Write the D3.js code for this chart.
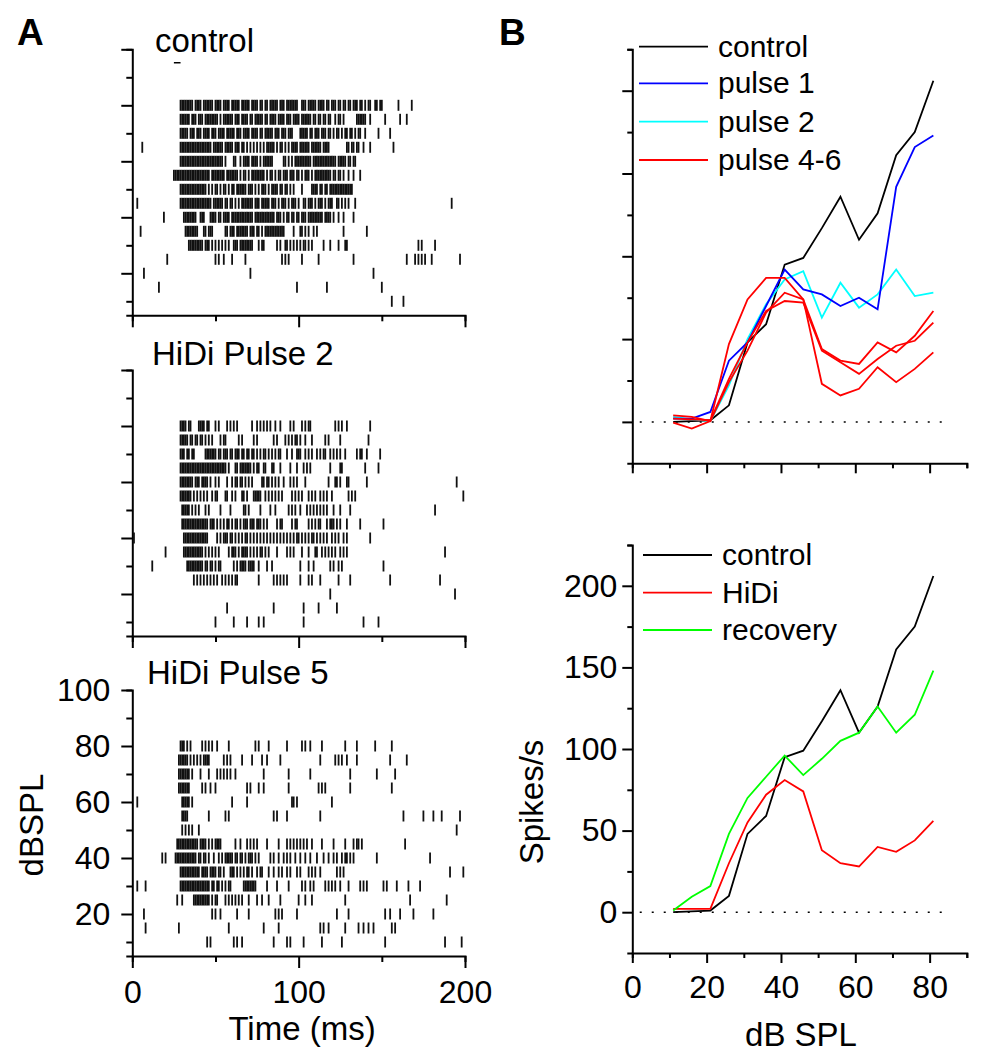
<!DOCTYPE html>
<html>
<head>
<meta charset="utf-8">
<script src="https://d3js.org/d3.v7.min.js"></script>
<style>
  body { margin: 0; background: #fff; }
  text { font-family: Arial, "Liberation Sans", sans-serif; fill: #000; }
</style>
</head>
<body>
<script>
// ---------- data ----------
// raster rows, dB SPL (top row first)
var rowLevels = [80, 75, 70, 65, 60, 55, 50, 45, 40, 35, 30, 25, 20, 15, 10];

// spike times (ms), one string per row
var controlSpikes = [
  "29 30 31 32 33 34 35 36 38 39 40 41 43 44 45 46 47 48 50 51 52 53 55 56 57 58 60 61 62 63 64 66 67 68 69 70 72 73 74 75 77 78 80 81 83 84 85 86 87 89 90 91 93 94 95 96 97 98 99 102 103 104 106 107 108 109 110 112 113 114 115 117 118 120 121 122 124 125 127 128 130 131 133 134 135 137 138 140 142 143 146 147 149 150 160 168",
  "29 30 31 32 33 34 36 37 38 40 41 42 44 45 46 47 48 49 50 51 53 55 56 57 58 59 60 62 63 64 66 67 68 69 71 72 74 75 76 77 78 80 81 83 84 85 86 88 89 90 91 93 94 95 97 98 99 100 102 103 104 105 106 107 109 110 112 113 115 116 118 119 122 124 125 127 135 136 137 138 139 140 143 152 161 165",
  "29 30 31 32 33 35 36 37 39 40 41 43 44 45 46 48 49 50 52 53 54 55 57 58 59 60 61 63 64 65 67 68 69 70 72 73 74 75 77 78 80 81 82 83 84 86 87 88 90 91 92 94 95 96 101 102 103 104 105 107 108 110 111 112 114 115 116 118 119 121 123 124 126 128 129 131 132 134 136 137 140 148 155",
  "6 29 30 31 32 33 34 35 36 37 38 39 40 41 42 43 44 45 46 47 49 50 51 52 53 54 56 57 58 59 60 62 63 64 66 67 69 71 73 75 77 79 81 82 83 84 85 87 89 90 92 94 96 97 98 99 101 102 103 104 105 106 108 109 110 111 112 113 115 116 117 118 129 130 132 133 135 136 139 143 157",
  "29 30 31 32 33 34 35 36 37 38 39 40 41 42 43 44 45 46 47 48 49 50 51 52 53 54 56 61 62 65 67 68 69 70 72 73 74 75 77 79 80 81 82 83 84 91 92 94 96 98 99 100 101 102 103 104 105 106 107 109 110 111 112 113 114 115 116 117 118 119 120 121 122 124 125 126 127 128 130 131 133 134",
  "25 26 27 28 29 30 31 32 33 34 35 36 37 38 39 40 41 42 43 44 45 46 48 49 50 51 52 53 54 55 57 58 59 60 61 62 63 65 67 68 70 72 73 74 75 76 77 78 79 81 83 84 86 88 89 91 92 93 95 96 97 99 100 102 104 105 106 108 110 111 112 113 114 115 116 117 118 119 121 122 124 125 127 130 133 137",
  "29 30 31 32 33 34 35 36 37 38 39 40 41 42 43 44 46 48 50 51 53 55 56 58 60 61 63 64 65 66 67 68 70 71 72 74 76 78 79 80 82 84 85 86 87 89 90 92 93 95 97 102 108 109 110 111 113 114 116 117 119 120 121 122 123 124 125 126 127 128 129 130 131 132",
  "3 29 30 31 32 33 34 35 36 37 38 39 40 41 42 43 44 45 46 47 49 50 51 52 53 54 56 57 59 60 62 64 66 67 68 69 70 71 72 74 75 76 78 79 80 81 82 84 85 86 88 90 91 92 94 96 97 98 100 103 104 106 107 108 110 112 113 114 116 118 119 120 123 124 126 128 130 134 192",
  "19 31 32 33 34 35 36 37 38 41 42 43 47 48 49 50 52 53 55 56 57 58 60 61 62 63 64 65 66 67 68 69 70 71 72 74 75 76 77 78 79 80 81 82 83 84 85 87 88 89 91 93 94 96 97 99 100 102 103 104 106 107 108 109 110 111 112 113 114 116 117 118 119 121 124 127 133",
  "5 32 33 34 35 36 37 38 39 43 44 46 47 48 56 57 59 60 61 63 64 65 66 67 68 69 71 72 73 75 76 78 80 81 82 83 84 85 86 87 88 89 90 91 97 101 102 104 106 109 111 127 141",
  "34 35 36 37 38 39 40 41 42 44 45 46 48 50 52 54 56 58 61 62 63 65 66 67 68 69 70 71 72 76 78 79 87 89 92 93 95 97 99 101 103 104 106 108 115 119 124 128 129 172 174 182",
  "21 50 52 55 60 68 90 92 94 102 112 133 165 170 172 174 176 180 197",
  "7 71 145",
  "16 99 117 150",
  "156 163"
];

var pulse2Spikes = [
  "29 30 31 32 34 35 40 41 42 43 45 46 50 52 57 59 61 63 72 75 77 79 81 83 86 89 95 97 102 104 106 107 122 124 126 129 143",
  "29 30 31 32 33 35 36 38 39 41 42 44 46 48 53 55 56 64 66 73 75 85 87 92 94 96 98 99 101 104 108 116 118 125 142",
  "29 30 31 33 34 36 37 44 45 46 47 48 49 50 52 53 55 56 57 59 60 62 63 64 66 67 69 70 72 73 75 77 79 80 82 84 86 88 89 93 96 99 100 101 104 106 108 111 113 115 116 119 121 123 125 128 135 137 138 141 149",
  "29 30 31 32 33 34 35 36 37 38 39 40 41 42 43 44 45 46 47 48 49 50 51 52 53 54 55 56 58 62 63 65 66 67 68 69 70 71 73 75 76 79 80 84 85 89 95 99 103 105 107 119 125 126 140 148",
  "29 30 31 32 33 34 35 36 38 39 40 42 43 44 45 47 50 52 57 60 62 63 65 66 68 70 72 78 79 81 82 84 86 88 91 95 97 99 104 118 122 123 125 129 130 141 195",
  "29 30 31 32 33 34 35 37 39 41 43 45 48 50 51 56 57 60 62 66 67 69 73 74 75 76 77 80 82 84 86 88 90 96 98 100 102 106 108 110 113 115 117 120 130 132 134 199",
  "30 31 32 33 34 36 38 40 44 46 53 59 67 68 70 77 83 86 94 96 98 101 105 107 109 111 113 115 117 121 125 131 182",
  "30 31 32 33 34 35 36 37 38 39 40 41 42 43 44 45 47 48 49 51 53 55 57 58 60 62 63 65 67 68 69 71 72 73 75 76 77 79 81 87 89 90 96 98 99 106 108 110 112 113 117 119 120 121 123 125 129 137 151",
  "1 31 32 33 34 35 36 37 38 39 40 41 42 43 44 45 51 53 55 56 57 59 60 62 64 66 68 69 71 73 75 77 79 81 83 85 87 89 91 93 95 97 99 100 102 104 106 108 109 111 113 115 117 120 122 124 127 129 143",
  "20 31 32 33 34 35 36 37 38 39 40 41 42 44 46 48 50 52 58 60 61 62 64 66 67 68 69 71 73 75 77 78 80 82 87 93 95 97 102 106 110 111 114 116 118 120 122 125 127 129 188",
  "12 33 34 35 36 37 38 39 40 41 42 44 45 47 48 50 52 53 61 63 65 66 67 68 70 71 72 73 76 81 84 101 106 109 119 121 124 126 151",
  "37 39 41 43 45 47 49 51 54 56 58 60 62 63 76 85 87 89 91 93 101 106 108 113 124 131 155 185",
  "119 194",
  "57 85 103 112 123",
  "50 61 69 76 79 103 139 148"
];

var pulse5Spikes = [
  "29 30 31 33 35 42 44 46 48 51 58 74 76 82 93 102 104 107 114 128 135 146 156",
  "28 29 30 31 32 33 35 37 39 41 43 44 45 46 55 57 59 66 72 78 81 89 113 122 124 126 129 135 155 165",
  "28 29 30 31 32 33 34 36 41 46 51 53 55 57 59 62 79 94 107 131 147 158",
  "28 29 30 31 32 33 34 42 44 47 50 69 71 76 79 94 112 114 116 131 156",
  "3 30 31 32 33 34 36 60 69 96 97 99 120",
  "30 31 32 33 46 56 58 85 87 93 113 163 175 181 186 197",
  "30 32 34 36 40 195",
  "27 28 29 30 31 32 33 34 35 36 37 38 39 41 42 43 44 46 48 50 51 52 53 62 65 69 71 73 75 81 88 93 95 97 99 101 103 105 108 114 121 128 133 135 136 138 164",
  "18 20 26 27 28 29 30 31 32 33 34 35 36 37 38 40 41 43 44 46 49 52 54 56 57 58 59 60 62 63 65 66 68 70 71 72 74 76 83 85 88 91 93 95 98 101 104 107 111 115 118 121 123 126 128 129 131 133 147 179",
  "29 30 31 32 33 34 35 36 37 38 39 40 42 43 44 45 47 48 49 50 52 53 55 59 60 61 63 65 67 69 70 72 75 77 78 82 85 88 90 93 95 99 101 106 108 110 113 123 125 127 191 199",
  "3 8 29 30 31 32 33 34 35 36 37 38 39 40 41 42 43 44 45 46 48 49 51 52 54 56 58 59 67 68 69 70 71 72 73 74 81 87 94 102 104 107 109 116 118 120 122 125 130 137 139 141 151 153 159 166 173",
  "27 30 37 38 39 40 41 42 43 44 45 46 48 50 51 56 58 60 62 64 66 70 75 78 82 89 100 104 108 128 167 189",
  "7 48 50 53 63 70 86 88 90 99 123 130 152 155 161 169 181",
  "8 28 58 79 88 113 115 118 128 136 139 142 145 156 158",
  "45 47 61 63 66 85 93 95 103 114 126 152 188 198"
];

// rate-level functions (spikes/s) at each sound level (dB SPL)
var levels = [11, 16, 21, 26, 31, 36, 41, 46, 51, 56, 61, 66, 71, 76, 81];
var controlRate  = [0, 0.5, 1, 10, 48, 59, 95, 99, 117, 136, 110, 126, 161, 175, 206];
var pulse1Rate   = [2, 2, 6, 37, 48, 70, 92, 80, 77, 70, 75, 68, 142, 166, 173];
var pulse2Rate   = [3, 1.5, 0.5, 22, 50, 71, 86, 91, 63, 84, 69, 77, 92, 76, 78];
var pulse4Rate   = [4, 3, 0.5, 47, 74, 87, 87, 74, 44, 37, 35, 48, 42, 52, 67];
var pulse5Rate   = [-0.5, -4, 0.5, 24, 43, 66, 78, 74, 23, 16, 20, 33, 24, 32, 42];
var pulse6Rate   = [2, 1.5, 1, 26, 48, 67, 73, 72, 43, 36, 29, 38, 46, 49, 60];
var hidiRate     = [2, 2, 2, 30, 55, 72, 81, 74, 38, 30, 28, 40, 37, 44, 56];
var recoveryRate = [1, 9.5, 16, 48, 70, 83, 96, 84, 94, 105, 110, 126, 110, 121, 148];

var rasterTicks = [0, 50, 100, 150, 200];
var dbTicks = [10, 20, 30, 40, 50, 60, 70, 80, 90, 100];
var rateTicks = [0, 25, 50, 75, 100, 125, 150, 175, 200, 225];
var levelTicks = [0, 10, 20, 30, 40, 50, 60, 70, 80, 90];

var legendTop = ["control", "pulse 1", "pulse 2", "pulse 4-6"];
var legendBottom = ["control", "HiDi", "recovery"];

// ---------- svg ----------
var svgWidth = 982;
var svgHeight = 1064;

var svg = d3.select("body")
    .append("svg")
    .attr("width", svgWidth)
    .attr("height", svgHeight);

// panel letters
svg.append("text").attr("x", 17).attr("y", 45)
    .style("font-size", "37px").style("font-weight", "bold").text("A");
svg.append("text").attr("x", 499).attr("y", 45)
    .style("font-size", "37px").style("font-weight", "bold").text("B");

// ---------- rasters ----------
var rasterX = d3.scaleLinear().domain([0, 200]).range([132.3, 465]);

function styleAxis(g) {
    g.selectAll("path, line").attr("stroke", "#000").attr("stroke-width", 2);
    g.selectAll("text").style("font-size", "32px").attr("fill", "#000");
}

function drawRaster(top, spikes, title, titleX, titleY, labels) {
    var y = d3.scaleLinear().domain([5, 100]).range([top + 266, top]);
    var g = svg.append("g");

    // minor + major ticks on the dB axis
    var left = g.append("g").attr("transform", "translate(132.3,0)")
        .call(d3.axisLeft(y).tickValues(dbTicks).tickSizeOuter(0)
            .tickSize(6).tickFormat(""));
    left.selectAll(".tick").filter(d => d % 20 == 0).select("line").attr("x2", -11);
    left.selectAll(".tick").filter(d => d % 20 == 0).select("text")
        .text(d => labels ? d : "").attr("x", -22);
    styleAxis(left);

    var bottom = g.append("g").attr("transform", `translate(0, ${top + 266})`)
        .call(d3.axisBottom(rasterX).tickValues(rasterTicks).tickSizeOuter(0)
            .tickSize(6).tickFormat(""));
    bottom.selectAll(".tick").filter(d => d % 100 == 0).select("line").attr("y2", 12);
    bottom.selectAll(".tick").filter(d => d % 100 == 0).select("text")
        .text(d => labels ? d : "").attr("y", 24);
    styleAxis(bottom);

    // spikes
    spikes.forEach(function(row, i) {
        var times = row.split(" ").map(Number);
        var lvl = rowLevels[i];
        g.selectAll(null).data(times).enter()
            .append("line")
            .attr("x1", d => rasterX(d))
            .attr("x2", d => rasterX(d))
            .attr("y1", y(lvl) - 5.5)
            .attr("y2", y(lvl) + 5.5)
            .attr("stroke", "#111")
            .attr("stroke-width", 1.8);
    });

    g.append("text").attr("x", titleX).attr("y", titleY)
        .style("font-size", "33px").text(title);
    return y;
}

var yTop = drawRaster(49.3, controlSpikes, "control", 155, 52, false);
drawRaster(370, pulse2Spikes, "HiDi Pulse 2", 152, 365, false);
drawRaster(690, pulse5Spikes, "HiDi Pulse 5", 147, 684, true);

// stimulus marker in control raster
svg.append("line")
    .attr("x1", rasterX(25)).attr("x2", rasterX(29))
    .attr("y1", yTop(95.2)).attr("y2", yTop(95.2))
    .attr("stroke", "#000").attr("stroke-width", 1.5);

svg.append("text")
    .attr("transform", "translate(43, 825) rotate(-90)")
    .attr("text-anchor", "middle")
    .style("font-size", "33px")
    .text("dBSPL");
svg.append("text")
    .attr("x", 302).attr("y", 1040)
    .attr("text-anchor", "middle")
    .style("font-size", "33px")
    .text("Time (ms)");

// ---------- rate-level charts ----------
var levelX = d3.scaleLinear().domain([0, 90]).range([632.3, 966.8]);

function drawRateChart(yTopPx, yBotPx, series, legend, legendY, legendX, labels) {
    var y = d3.scaleLinear().domain([-25, 225]).range([yBotPx, yTopPx]);
    var g = svg.append("g");

    var left = g.append("g").attr("transform", "translate(632.3,0)")
        .call(d3.axisLeft(y).tickValues(rateTicks).tickSizeOuter(0)
            .tickSize(5).tickFormat(""));
    left.selectAll(".tick").filter(d => d % 50 == 0).select("line").attr("x2", -10);
    left.selectAll(".tick").filter(d => d % 50 == 0).select("text")
        .text(d => labels ? d : "").attr("x", -15);
    styleAxis(left);

    var bottom = g.append("g").attr("transform", `translate(0, ${yBotPx})`)
        .call(d3.axisBottom(levelX).tickValues(levelTicks).tickSizeOuter(0)
            .tickSize(5).tickFormat(""));
    bottom.selectAll(".tick").filter(d => d % 20 == 0 && d <= 80).select("line").attr("y2", 10);
    bottom.selectAll(".tick").filter(d => d % 20 == 0 && d <= 80).select("text")
        .text(d => labels ? d : "").attr("y", 22);
    styleAxis(bottom);

    // dotted zero line
    g.append("line")
        .attr("x1", levelX(2)).attr("x2", levelX(85.5))
        .attr("y1", y(0)).attr("y2", y(0))
        .attr("stroke", "#000").attr("stroke-width", 1.5)
        .attr("stroke-dasharray", "2,10");

    var line = d3.line()
        .x((d, i) => levelX(levels[i]))
        .y(d => y(d));

    series.forEach(function(s) {
        g.append("path")
            .datum(s.values)
            .attr("d", line)
            .attr("fill", "none")
            .attr("stroke", s.color)
            .attr("stroke-width", 1.8);
    });

    legend.forEach(function(item, i) {
        var ly = legendY[i];
        g.append("line")
            .attr("x1", legendX).attr("x2", legendX + 69)
            .attr("y1", ly).attr("y2", ly)
            .attr("stroke", item.color).attr("stroke-width", 1.8);
        g.append("text")
            .attr("x", legendX + 79).attr("y", ly + 10)
            .style("font-size", "30px")
            .text(item.name);
    });
    return y;
}

drawRateChart(49.3, 463.3, [
        {values: controlRate, color: "#000000"},
        {values: pulse2Rate, color: "#00FFFF"},
        {values: pulse1Rate, color: "#0000FF"},
        {values: pulse4Rate, color: "#FF0000"},
        {values: pulse5Rate, color: "#FF0000"},
        {values: pulse6Rate, color: "#FF0000"}
    ],
    [
        {name: legendTop[0], color: "#000000"},
        {name: legendTop[1], color: "#0000FF"},
        {name: legendTop[2], color: "#00FFFF"},
        {name: legendTop[3], color: "#FF0000"}
    ],
    [46.7, 83.3, 121.7, 160], 639, false);

drawRateChart(545, 953, [
        {values: controlRate, color: "#000000"},
        {values: hidiRate, color: "#FF0000"},
        {values: recoveryRate, color: "#00FF00"}
    ],
    [
        {name: legendBottom[0], color: "#000000"},
        {name: legendBottom[1], color: "#FF0000"},
        {name: legendBottom[2], color: "#00FF00"}
    ],
    [555, 592.7, 630], 643, true);

svg.append("text")
    .attr("transform", "translate(543, 802) rotate(-90)")
    .attr("text-anchor", "middle")
    .style("font-size", "33px")
    .text("Spikes/s");
svg.append("text")
    .attr("x", 801).attr("y", 1046)
    .attr("text-anchor", "middle")
    .style("font-size", "33px")
    .text("dB SPL");
</script>
</body>
</html>
